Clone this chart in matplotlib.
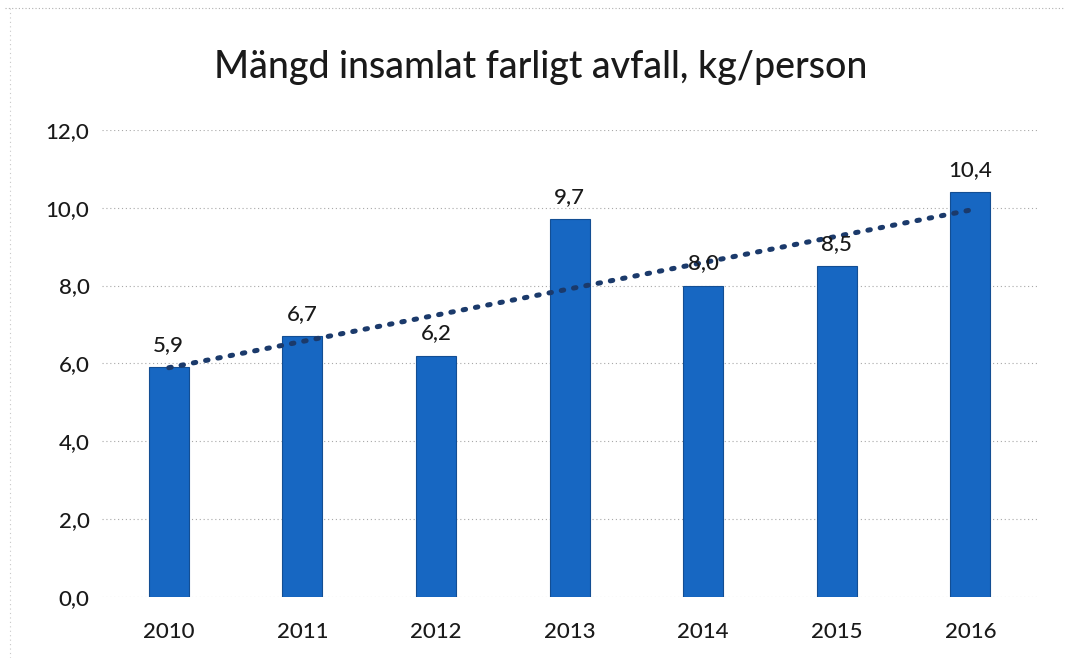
import numpy as np
import matplotlib
matplotlib.use("Agg")
import matplotlib.pyplot as plt

years = ["2010", "2011", "2012", "2013", "2014", "2015", "2016"]
kg_per_person = [5.9, 6.7, 6.2, 9.7, 8.0, 8.5, 10.4]
y_ticks = [0, 2, 4, 6, 8, 10, 12]

plt.rcParams['font.family'] = ['Lato', 'DejaVu Sans']

fig = plt.figure(figsize=(10.7, 6.58), dpi=100)
ax = fig.add_axes([0.0953, 0.0927, 0.874, 0.710])

x = np.arange(len(years))
ax.bar(x, kg_per_person, width=0.3, color="#1767c2", edgecolor="#134e93", linewidth=0.8, zorder=2)

# linear trend line
k, m = np.polyfit(x, kg_per_person, 1)
ax.plot(x, k * x + m, linestyle=(0, (0.5, 2.0)), color="#1b3a6b", linewidth=3.6,
        dash_capstyle="round", zorder=3)

for xi, v in zip(x, kg_per_person):
    ax.annotate(("%.1f" % v).replace(".", ","), (xi, v), xytext=(0, 9),
                textcoords="offset points", ha="center", va="bottom",
                fontsize=16, color="#1a1a1a", fontweight="medium", zorder=4)

ax.set_xlim(-0.5, len(years) - 0.5)
ax.set_ylim(0, 12)
ax.set_yticks(y_ticks)
ax.set_yticklabels([("%.1f" % t).replace(".", ",") for t in y_ticks])
ax.set_xticks(x)
ax.set_xticklabels(years)
ax.tick_params(axis="both", length=0, labelsize=16, colors="#1a1a1a")
for lab in ax.get_xticklabels() + ax.get_yticklabels():
    lab.set_fontweight("medium")
ax.tick_params(axis="x", pad=18)
ax.tick_params(axis="y", pad=9)

ax.grid(axis="y", linestyle=(0, (1, 2.5)), color="#a8a8a8", linewidth=0.8, zorder=0)
for s in ax.spines.values():
    s.set_visible(False)

fig.text(0.505, 0.897, "Mängd insamlat farligt avfall, kg/person", ha="center", va="center",
         fontsize=27, color="#1a1a1a", fontweight="medium")

# faint dotted frame from the scanned original
fig.add_artist(plt.Line2D([0.005, 0.995], [0.988, 0.988], transform=fig.transFigure,
                          linestyle=(0, (1, 2)), color="#b0b0b0", linewidth=0.8))
fig.add_artist(plt.Line2D([0.009, 0.009], [0.0, 0.988], transform=fig.transFigure,
                          linestyle=(0, (1, 3)), color="#c8c8c8", linewidth=0.8))

fig.savefig("out.png", dpi=100)
